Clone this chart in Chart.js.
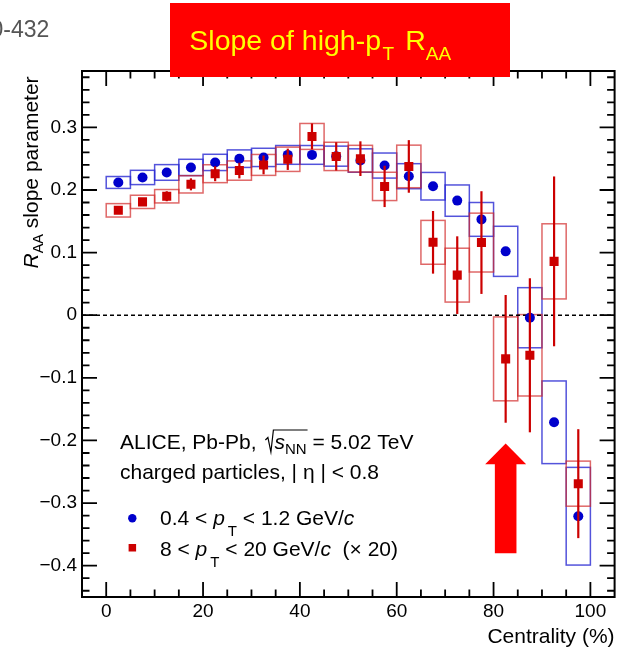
<!DOCTYPE html>
<html><head><meta charset="utf-8">
<script src="https://cdn.jsdelivr.net/npm/chart.js@4"></script>
<style>html,body{margin:0;padding:0;background:#fff;}</style>
</head><body>
<canvas id="c" width="621" height="648"></canvas>
<script>
// ---------- data ----------
const centrality = [2.5, 7.5, 12.5, 17.5, 22.5, 27.5, 32.5, 37.5, 42.5, 47.5, 52.5, 57.5, 62.5, 67.5, 72.5, 77.5, 82.5, 87.5, 92.5, 97.5];
const binHalfWidth = 2.5;
// 0.4 < pT < 1.2 GeV/c
const lowPtSlope = [0.212, 0.220, 0.228, 0.236, 0.244, 0.250, 0.252, 0.256, 0.256, 0.254, 0.247, 0.239, 0.222, 0.206, 0.183, 0.153, 0.102, -0.004, -0.171, -0.321];
const lowPtSys   = [0.0095, 0.0114, 0.0125, 0.013, 0.013, 0.014, 0.0146, 0.015, 0.015, 0.016, 0.0187, 0.020, 0.020, 0.022, 0.025, 0.027, 0.040, 0.048, 0.066, 0.078];
// 8 < pT < 20 GeV/c (x20)
const highPtSlope = [0.1675, 0.181, 0.190, 0.209, 0.226, 0.231, 0.240, 0.249, 0.2855, 0.2536, 0.250, 0.2057, 0.2376, 0.1164, 0.064, 0.116, -0.0697, -0.064, 0.086, -0.269];
const highPtStat  = [0.005, 0.006, 0.008, 0.0096, 0.012, 0.0125, 0.015, 0.017, 0.0207, 0.0226, 0.0277, 0.033, 0.042, 0.050, 0.062, 0.082, 0.102, 0.123, 0.1356, 0.087];
const highPtSys   = [0.0107, 0.0106, 0.0107, 0.0138, 0.0143, 0.0154, 0.0167, 0.0194, 0.0207, 0.0226, 0.0213, 0.0226, 0.034, 0.035, 0.043, 0.047, 0.067, 0.065, 0.060, 0.036];
// axes
const xRange = [-5, 105];
const yRange = [-0.45, 0.39];
const xMajorStep = 20, xMinorStep = 5;
const yMajorStep = 0.1, yMinorStep = 0.02;
// annotation arrow (centrality, from value, to value)
const arrowAt = 82.5, arrowFrom = -0.380, arrowTo = -0.205;

// ---------- styles ----------
const FONT = "'Liberation Sans', Arial, Helvetica, sans-serif";
const BLUE = '#0000cc', RED = '#cc0000';
const BLUE_BOX = 'rgba(40,40,210,0.8)', RED_BOX = 'rgba(210,40,40,0.7)';

function fmtY(v) {
  if (Math.abs(v) < 1e-9) return '0';
  const s = Math.abs(v).toFixed(1);
  return v < 0 ? '\u2212' + s : s;
}
function drawSegs(ctx, x, y, segs) {
  for (const s of segs) {
    ctx.font = s.f;
    x += s.gap || 0;
    ctx.fillText(s.t, x, y + (s.dy || 0));
    x += ctx.measureText(s.t).width;
  }
  return x;
}

const rootPlugin = {
  id: 'rootStyle',
  beforeDatasetsDraw(chart) {
    const ctx = chart.ctx, xs = chart.scales.x, ys = chart.scales.y, a = chart.chartArea;
    ctx.save();
    ctx.beginPath(); ctx.rect(a.left, a.top, a.right - a.left, a.bottom - a.top); ctx.clip();
    ctx.lineWidth = 1.5;
    const boxes = (vals, sys, col) => {
      ctx.strokeStyle = col;
      centrality.forEach((c, i) => {
        const x1 = xs.getPixelForValue(c - binHalfWidth), x2 = xs.getPixelForValue(c + binHalfWidth);
        const y1 = ys.getPixelForValue(vals[i] + sys[i]), y2 = ys.getPixelForValue(vals[i] - sys[i]);
        ctx.strokeRect(x1, y1, x2 - x1, y2 - y1);
      });
    };
    boxes(lowPtSlope, lowPtSys, BLUE_BOX);
    boxes(highPtSlope, highPtSys, RED_BOX);
    // zero line
    ctx.strokeStyle = '#000'; ctx.lineWidth = 1.5; ctx.setLineDash([4, 3]);
    const y0 = ys.getPixelForValue(0);
    ctx.beginPath(); ctx.moveTo(a.left, y0); ctx.lineTo(a.right, y0); ctx.stroke();
    ctx.restore();
  },
  beforeDatasetDraw(chart, args) {
    if (args.index !== 1) return;
    const ctx = chart.ctx, xs = chart.scales.x, ys = chart.scales.y;
    ctx.save();
    ctx.strokeStyle = RED; ctx.lineWidth = 2.2;
    centrality.forEach((c, i) => {
      const x = xs.getPixelForValue(c);
      ctx.beginPath();
      ctx.moveTo(x, ys.getPixelForValue(highPtSlope[i] + highPtStat[i]));
      ctx.lineTo(x, ys.getPixelForValue(highPtSlope[i] - highPtStat[i]));
      ctx.stroke();
    });
    ctx.restore();
  },
  afterDraw(chart) {
    const ctx = chart.ctx, xs = chart.scales.x, ys = chart.scales.y, a = chart.chartArea;
    ctx.save();
    // arrow
    const ax = xs.getPixelForValue(arrowAt), ab = ys.getPixelForValue(arrowFrom), at = ys.getPixelForValue(arrowTo);
    const bodyHalf = 10.8, headHalf = 20.5, headLen = 20.7;
    ctx.fillStyle = '#ff0000';
    ctx.beginPath();
    ctx.moveTo(ax - bodyHalf, ab); ctx.lineTo(ax - bodyHalf, at + headLen); ctx.lineTo(ax - headHalf, at + headLen);
    ctx.lineTo(ax, at); ctx.lineTo(ax + headHalf, at + headLen); ctx.lineTo(ax + bodyHalf, at + headLen);
    ctx.lineTo(ax + bodyHalf, ab); ctx.closePath(); ctx.fill();

    // frame
    ctx.strokeStyle = '#000'; ctx.lineWidth = 2;
    ctx.strokeRect(a.left, a.top, a.right - a.left, a.bottom - a.top);
    // ticks
    ctx.lineWidth = 1.8;
    const MAJ = 15, MIN = 7.5;
    const xt = (v, len) => {
      const p = xs.getPixelForValue(v);
      ctx.beginPath(); ctx.moveTo(p, a.bottom); ctx.lineTo(p, a.bottom - len);
      ctx.moveTo(p, a.top); ctx.lineTo(p, a.top + len); ctx.stroke();
    };
    const yt = (v, len) => {
      const p = ys.getPixelForValue(v);
      ctx.beginPath(); ctx.moveTo(a.left, p); ctx.lineTo(a.left + len, p);
      ctx.moveTo(a.right, p); ctx.lineTo(a.right - len, p); ctx.stroke();
    };
    const nx0 = Math.ceil(xRange[0] / xMinorStep + 1e-9), nx1 = Math.floor(xRange[1] / xMinorStep - 1e-9);
    for (let k = nx0; k <= nx1; k++) {
      const v = k * xMinorStep;
      if (v <= xRange[0] || v >= xRange[1]) continue;
      xt(v, (Math.abs(v % xMajorStep) < 1e-9) ? MAJ : MIN);
    }
    const ny0 = Math.ceil(yRange[0] / yMinorStep + 1e-9), ny1 = Math.floor(yRange[1] / yMinorStep - 1e-9);
    const ratio = Math.round(yMajorStep / yMinorStep);
    for (let k = ny0; k <= ny1; k++) {
      yt(k * yMinorStep, (k % ratio === 0) ? MAJ : MIN);
    }

    // axis titles
    ctx.fillStyle = '#000';
    ctx.textAlign = 'right'; ctx.textBaseline = 'alphabetic';
    ctx.font = '21px ' + FONT;
    ctx.fillText('Centrality (%)', a.right, 643.3);
    ctx.textAlign = 'left';
    ctx.save();
    ctx.translate(37.5, 268.5); ctx.rotate(-Math.PI / 2);
    drawSegs(ctx, 0, 0, [
      { t: 'R', f: 'italic 21px ' + FONT },
      { t: 'AA', f: '14.5px ' + FONT, dy: 5.5 },
      { t: ' slope parameter', f: '21px ' + FONT }
    ]);
    ctx.restore();

    // legend texts
    const F21 = '21px ' + FONT, I21 = 'italic 21px ' + FONT, F15 = '15px ' + FONT;
    let x = drawSegs(ctx, 120, 449, [{ t: 'ALICE, Pb-Pb, ', f: F21 }]);
    const rx = x + 3;
    const xs2 = drawSegs(ctx, rx + 9, 449, [{ t: 's', f: I21 }, { t: 'NN', f: F15, dy: 5 }]);
    ctx.lineWidth = 1.2; ctx.strokeStyle = '#000';
    ctx.beginPath();
    ctx.moveTo(rx, 440); ctx.lineTo(rx + 2.5, 437.5); ctx.lineTo(rx + 5.5, 452); ctx.lineTo(rx + 8, 430);
    ctx.lineTo(xs2 + 1, 430); ctx.stroke();
    drawSegs(ctx, xs2, 449, [{ t: ' = 5.02 TeV', f: F21 }]);
    drawSegs(ctx, 120, 479, [{ t: 'charged particles, | \u03B7 | < 0.8', f: F21 }]);
    drawSegs(ctx, 160, 525, [
      { t: '0.4 < ', f: F21 }, { t: 'p', f: I21 }, { t: 'T', f: F15, dy: 11, gap: 3 },
      { t: ' < 1.2 GeV/', f: F21 }, { t: 'c', f: I21 }
    ]);
    drawSegs(ctx, 160, 556, [
      { t: '8 < ', f: F21 }, { t: 'p', f: I21 }, { t: 'T', f: F15, dy: 11, gap: 3 },
      { t: ' < 20 GeV/', f: F21 }, { t: 'c', f: I21 }, { t: '  (\u00D7 20)', f: F21 }
    ]);
    // legend markers
    ctx.fillStyle = BLUE;
    ctx.beginPath(); ctx.arc(132.3, 518.3, 4.2, 0, Math.PI * 2); ctx.fill();
    ctx.fillStyle = RED;
    ctx.fillRect(128.6, 544, 7.5, 7.5);

    // header fragment
    ctx.fillStyle = '#555';
    ctx.textAlign = 'right';
    ctx.font = '23px ' + FONT;
    ctx.fillText('0-432', 49.3, 37.3);
    ctx.textAlign = 'left';

    // title box
    ctx.fillStyle = '#ff0000';
    ctx.fillRect(170, 3, 340, 74);
    ctx.fillStyle = '#ffff00';
    drawSegs(ctx, 189.3, 49.5, [
      { t: 'Slope of high-p', f: '28.5px ' + FONT },
      { t: 'T', f: '19px ' + FONT, dy: 10.5, gap: 1.5 },
      { t: 'R', f: '28.5px ' + FONT, gap: 11 },
      { t: 'AA', f: '19px ' + FONT, dy: 10.5 }
    ]);
    ctx.restore();
  }
};

Chart.defaults.font.family = FONT;
new Chart(document.getElementById('c'), {
  type: 'scatter',
  data: {
    datasets: [
      {
        label: '0.4 < pT < 1.2 GeV/c',
        data: centrality.map((c, i) => ({ x: c, y: lowPtSlope[i] })),
        pointStyle: 'circle', pointRadius: 5, backgroundColor: BLUE, borderWidth: 0, order: 2
      },
      {
        label: '8 < pT < 20 GeV/c (x 20)',
        data: centrality.map((c, i) => ({ x: c, y: highPtSlope[i] })),
        pointStyle: 'rect', pointRadius: 6.4, backgroundColor: RED, borderWidth: 0, order: 1
      }
    ]
  },
  options: {
    responsive: false,
    animation: false,
    layout: { padding: { top: 71, right: 2, left: 0, bottom: 0 } },
    plugins: { legend: { display: false }, tooltip: { enabled: false } },
    events: [],
    scales: {
      x: {
        type: 'linear', min: xRange[0], max: xRange[1],
        grid: { display: false, drawTicks: false }, border: { display: false },
        ticks: { stepSize: xMajorStep, includeBounds: false, autoSkip: false, maxRotation: 0,
                 color: '#000', font: { size: 19 }, padding: 3 },
        afterFit: s => { s.height = 51; }
      },
      y: {
        type: 'linear', min: yRange[0], max: yRange[1],
        grid: { display: false, drawTicks: false }, border: { display: false },
        ticks: { stepSize: yMajorStep, includeBounds: false, autoSkip: false,
                 color: '#000', font: { size: 19 }, padding: 5, callback: v => fmtY(v) },
        afterFit: s => { s.width = 82; }
      }
    }
  },
  plugins: [rootPlugin]
});
</script>
</body></html>
